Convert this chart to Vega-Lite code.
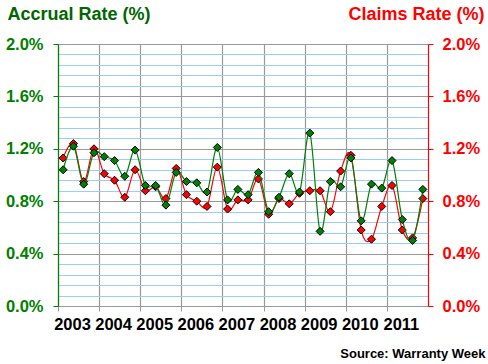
{
  "$schema": "https://vega.github.io/schema/vega-lite/v6.json",
  "width": 370,
  "height": 262,
  "autosize": "none",
  "padding": {"left": 58, "top": 44, "right": 60, "bottom": 58},
  "background": "white",
  "config": {
    "view": {"stroke": null},
    "font": "Liberation Sans",
    "axis": {"labelFont": "Liberation Sans", "titleFont": "Liberation Sans"}
  },
  "data": {
    "values": [
      {"t": 2003.125, "accrual": 1.04, "claims": 1.13},
      {"t": 2003.375, "accrual": 1.22, "claims": 1.24},
      {"t": 2003.625, "accrual": 0.93, "claims": 0.95},
      {"t": 2003.875, "accrual": 1.17, "claims": 1.20},
      {"t": 2004.125, "accrual": 1.14, "claims": 1.01},
      {"t": 2004.375, "accrual": 1.11, "claims": 0.96},
      {"t": 2004.625, "accrual": 0.99, "claims": 0.83},
      {"t": 2004.875, "accrual": 1.19, "claims": 1.04},
      {"t": 2005.125, "accrual": 0.92, "claims": 0.88},
      {"t": 2005.375, "accrual": 0.92, "claims": 0.91},
      {"t": 2005.625, "accrual": 0.77, "claims": 0.82},
      {"t": 2005.875, "accrual": 1.02, "claims": 1.05},
      {"t": 2006.125, "accrual": 0.95, "claims": 0.85},
      {"t": 2006.375, "accrual": 0.94, "claims": 0.80},
      {"t": 2006.625, "accrual": 0.87, "claims": 0.76},
      {"t": 2006.875, "accrual": 1.21, "claims": 1.06},
      {"t": 2007.125, "accrual": 0.81, "claims": 0.74},
      {"t": 2007.375, "accrual": 0.89, "claims": 0.81},
      {"t": 2007.625, "accrual": 0.85, "claims": 0.81},
      {"t": 2007.875, "accrual": 1.02, "claims": 0.97},
      {"t": 2008.125, "accrual": 0.72, "claims": 0.70},
      {"t": 2008.375, "accrual": 0.83, "claims": 0.82},
      {"t": 2008.625, "accrual": 1.01, "claims": 0.78},
      {"t": 2008.875, "accrual": 0.87, "claims": 0.86},
      {"t": 2009.125, "accrual": 1.32, "claims": 0.88},
      {"t": 2009.375, "accrual": 0.57, "claims": 0.88},
      {"t": 2009.625, "accrual": 0.95, "claims": 0.72},
      {"t": 2009.875, "accrual": 0.91, "claims": 1.03},
      {"t": 2010.125, "accrual": 1.13, "claims": 1.15},
      {"t": 2010.375, "accrual": 0.65, "claims": 0.58},
      {"t": 2010.625, "accrual": 0.93, "claims": 0.51},
      {"t": 2010.875, "accrual": 0.90, "claims": 0.76},
      {"t": 2011.125, "accrual": 1.11, "claims": 0.92},
      {"t": 2011.375, "accrual": 0.66, "claims": 0.58},
      {"t": 2011.625, "accrual": 0.50, "claims": 0.52},
      {"t": 2011.875, "accrual": 0.89, "claims": 0.82}
    ]
  },
  "encoding": {
    "x": {
      "field": "t",
      "type": "quantitative",
      "scale": {"domain": [2003, 2012], "nice": false, "zero": false},
      "axis": {
        "values": [2003, 2004, 2005, 2006, 2007, 2008, 2009, 2010, 2011],
        "format": "d",
        "grid": true,
        "gridColor": "#999999",
        "gridWidth": 1.2,
        "domainColor": "#999999",
        "domainWidth": 1.2,
        "tickColor": "#999999",
        "tickSize": 5,
        "labelOffset": 14,
        "labelFlush": false,
        "labelOverlap": false,
        "labelAlign": "center",
        "labelPadding": 5,
        "labelColor": "black",
        "labelFontSize": 16.5,
        "labelFontWeight": "bold",
        "title": "Source: Warranty Week",
        "titleX": 427,
        "titleY": 51,
        "titleAlign": "right",
        "titleAnchor": null,
        "titleBaseline": "alphabetic",
        "titleFontSize": 13,
        "titleFontWeight": "bold",
        "titleColor": "black"
      }
    }
  },
  "layer": [
    {
      "encoding": {
        "y": {
          "field": "claims",
          "type": "quantitative",
          "scale": {"domain": [0, 2], "nice": false},
          "axis": {
            "orient": "right",
            "values": [0, 0.4, 0.8, 1.2, 1.6, 2.0],
            "grid": false,
            "labelExpr": "format(datum.value, '.1f') + '%'",
            "domainColor": "#ff0000",
            "domainWidth": 1.2,
            "tickColor": "#ff0000",
            "tickSize": 5,
            "labelPadding": 9,
            "labelColor": "#ff0000",
            "labelFontSize": 16.5,
            "labelFontWeight": "bold",
            "labelOverlap": false,
            "labelFlush": false,
            "title": "Claims Rate (%)",
            "titleAngle": 0,
            "titleX": 56,
            "titleY": -25,
            "titleAlign": "right",
            "titleBaseline": "alphabetic",
            "titleColor": "#ff0000",
            "titleFontSize": 18,
            "titleFontWeight": "bold"
          }
        }
      },
      "layer": [
        {"mark": {"type": "line", "interpolate": "cardinal", "color": "#ff0000", "strokeWidth": 1.2}},
        {"mark": {"type": "point", "shape": "diamond", "filled": true, "fill": "#ff0000", "stroke": "black", "strokeWidth": 1, "size": 64, "opacity": 1}}
      ]
    },
    {
      "encoding": {
        "y": {
          "field": "accrual",
          "type": "quantitative",
          "scale": {"domain": [0, 2], "nice": false},
          "axis": {
            "orient": "left",
            "values": [0, 0.08, 0.16, 0.24, 0.32, 0.4, 0.48, 0.56, 0.64, 0.72, 0.8, 0.88, 0.96, 1.04, 1.12, 1.2, 1.28, 1.36, 1.44, 1.52, 1.6, 1.68, 1.76, 1.84, 1.92, 2.0],
            "grid": true,
            "gridColor": {"condition": {"test": "abs(datum.value / 0.4 - round(datum.value / 0.4)) < 0.01", "value": "#999999"}, "value": "#99ccff"},
            "gridWidth": 1.2,
            "labelExpr": "abs(datum.value / 0.4 - round(datum.value / 0.4)) < 0.01 ? format(datum.value, '.1f') + '%' : ''",
            "tickOpacity": {"condition": {"test": "abs(datum.value / 0.4 - round(datum.value / 0.4)) < 0.01", "value": 1}, "value": 0},
            "domainColor": "#008000",
            "domainWidth": 1.2,
            "tickColor": "#008000",
            "tickSize": 5,
            "labelPadding": 10,
            "labelColor": "#008000",
            "labelFontSize": 16.5,
            "labelFontWeight": "bold",
            "labelOverlap": false,
            "labelFlush": false,
            "title": "Accrual Rate (%)",
            "titleAngle": 0,
            "titleX": -51,
            "titleY": -25,
            "titleAlign": "left",
            "titleBaseline": "alphabetic",
            "titleColor": "#006600",
            "titleFontSize": 18,
            "titleFontWeight": "bold"
          }
        }
      },
      "layer": [
        {"mark": {"type": "line", "interpolate": "cardinal", "color": "#008000", "strokeWidth": 1.2}},
        {"mark": {"type": "point", "shape": "diamond", "filled": true, "fill": "#008000", "stroke": "black", "strokeWidth": 1, "size": 64, "opacity": 1}}
      ]
    }
  ],
  "resolve": {"scale": {"y": "independent"}}
}
